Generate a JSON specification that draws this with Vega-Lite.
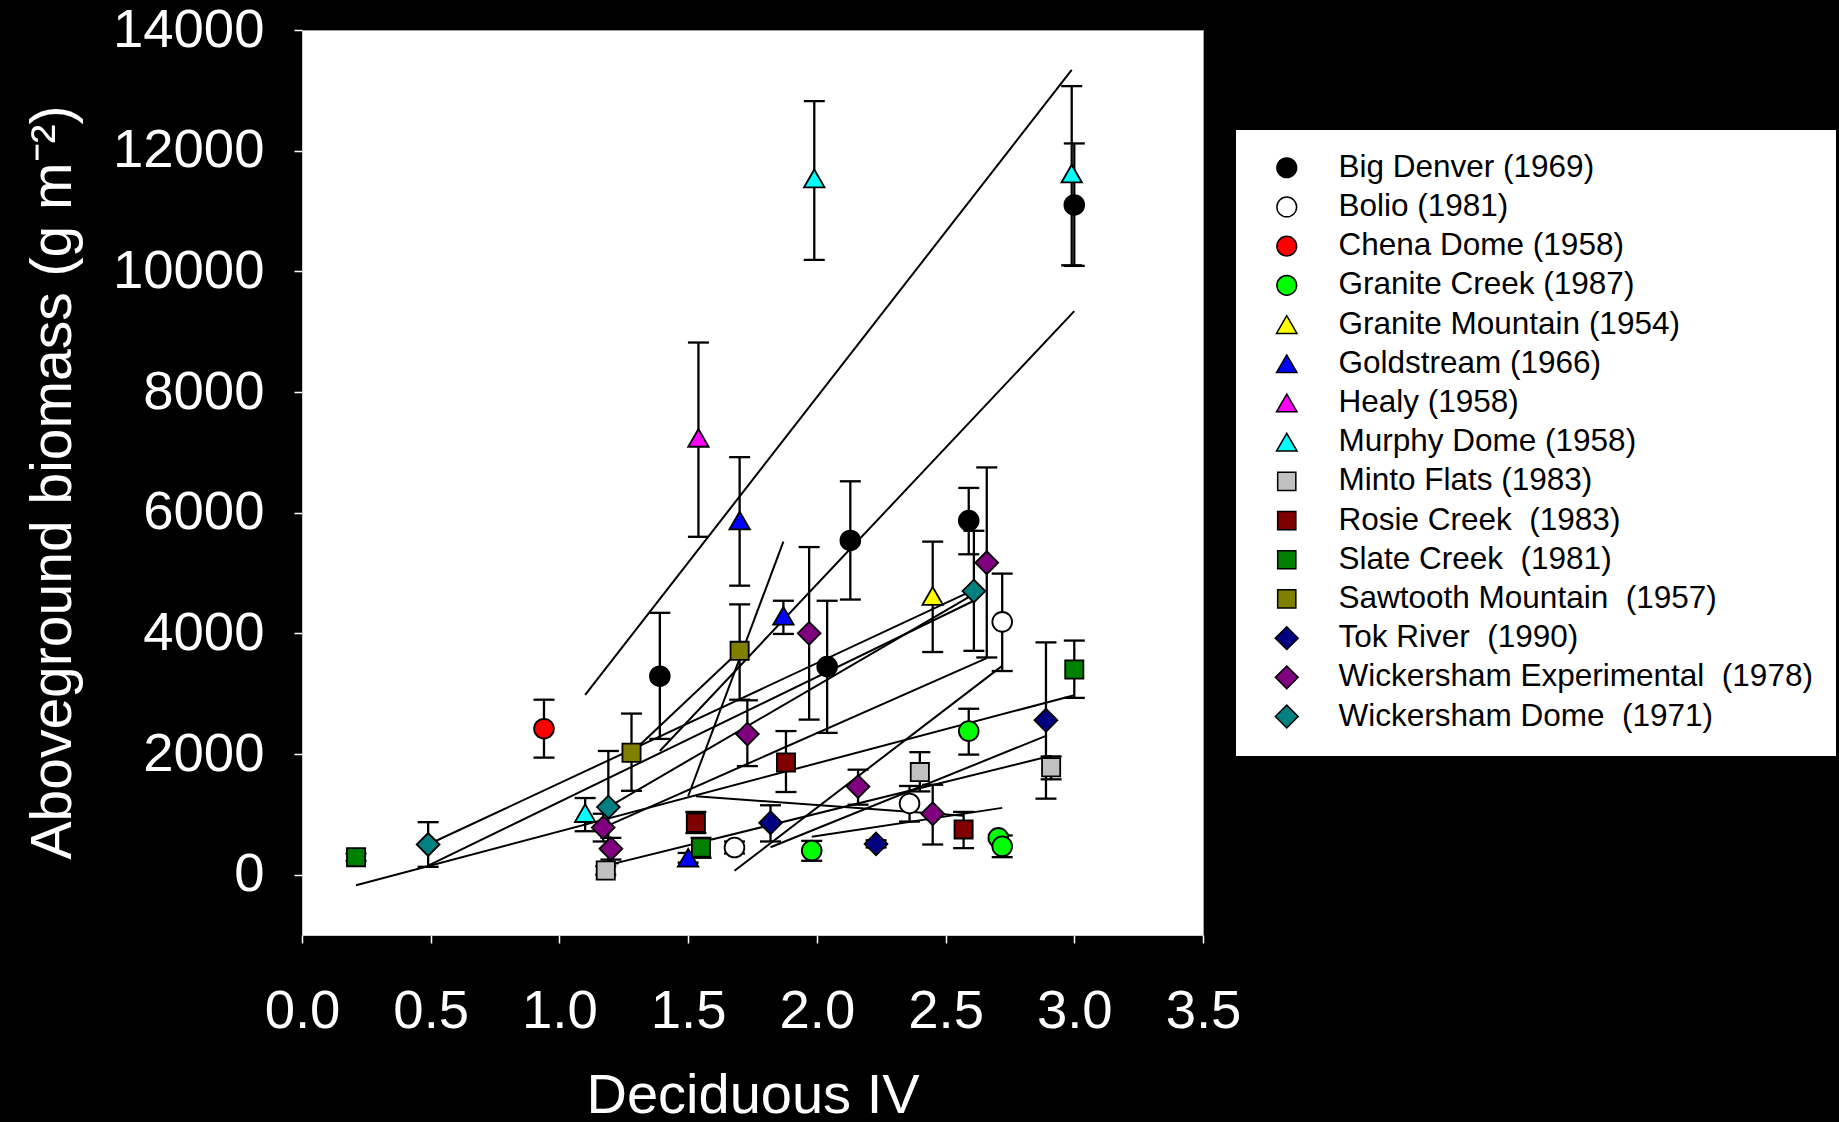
{
  "$schema": "https://vega.github.io/schema/vega-lite/v6.json",
  "width": 901,
  "height": 905,
  "autosize": {"type": "none"},
  "padding": {"left": 302, "top": 30, "right": 636, "bottom": 187},
  "background": "black",
  "config": {
    "font": "Liberation Sans",
    "view": {"fill": "white", "stroke": "#a0a0a0", "strokeWidth": 1}
  },
  "datasets": {
    "points": [
      {"site": "Big Denver (1969)", "x": 1.39, "y": 3290, "lo": 2250, "hi": 4340},
      {"site": "Big Denver (1969)", "x": 2.13, "y": 5540, "lo": 4560, "hi": 6520},
      {"site": "Big Denver (1969)", "x": 2.04, "y": 3450, "lo": 2350, "hi": 4540},
      {"site": "Big Denver (1969)", "x": 2.59, "y": 5870, "lo": 5310, "hi": 6410},
      {"site": "Big Denver (1969)", "x": 3.0, "y": 11100, "lo": 10090, "hi": 12120},
      {"site": "Bolio (1981)", "x": 1.68, "y": 450, "lo": 350, "hi": 550},
      {"site": "Bolio (1981)", "x": 2.36, "y": 1180, "lo": 880, "hi": 1470},
      {"site": "Bolio (1981)", "x": 2.72, "y": 4190, "lo": 3375, "hi": 4990},
      {"site": "Chena Dome (1958)", "x": 0.94, "y": 2420, "lo": 1940, "hi": 2900},
      {"site": "Granite Creek (1987)", "x": 2.59, "y": 2380, "lo": 1990, "hi": 2750},
      {"site": "Granite Creek (1987)", "x": 1.98, "y": 400, "lo": 230, "hi": 560},
      {"site": "Granite Creek (1987)", "x": 2.705, "y": 610, "lo": 560, "hi": 660},
      {"site": "Granite Creek (1987)", "x": 2.72, "y": 470, "lo": 290, "hi": 650},
      {"site": "Granite Mountain (1954)", "x": 2.45, "y": 4620, "lo": 3690, "hi": 5520},
      {"site": "Goldstream (1966)", "x": 1.7, "y": 5870, "lo": 4790, "hi": 6920},
      {"site": "Goldstream (1966)", "x": 1.87, "y": 4290, "lo": 3990, "hi": 4540},
      {"site": "Goldstream (1966)", "x": 1.5, "y": 280, "lo": 200, "hi": 360},
      {"site": "Healy (1958)", "x": 1.54, "y": 7240, "lo": 5600, "hi": 8820},
      {"site": "Murphy Dome (1958)", "x": 1.99, "y": 11540, "lo": 10190, "hi": 12820},
      {"site": "Murphy Dome (1958)", "x": 2.99, "y": 11620, "lo": 10100, "hi": 13070},
      {"site": "Murphy Dome (1958)", "x": 1.1, "y": 1020, "lo": 720, "hi": 1270},
      {"site": "Minto Flats (1983)", "x": 1.18, "y": 70, "lo": 0, "hi": 140},
      {"site": "Minto Flats (1983)", "x": 2.4, "y": 1700, "lo": 1380, "hi": 2030},
      {"site": "Minto Flats (1983)", "x": 2.91, "y": 1780, "lo": 1580, "hi": 1960},
      {"site": "Rosie Creek  (1983)", "x": 1.53, "y": 860, "lo": 690, "hi": 1040},
      {"site": "Rosie Creek  (1983)", "x": 1.88, "y": 1860, "lo": 1370, "hi": 2380},
      {"site": "Rosie Creek  (1983)", "x": 2.57, "y": 750, "lo": 440, "hi": 1040},
      {"site": "Slate Creek  (1981)", "x": 0.21, "y": 290, "lo": 230, "hi": 350},
      {"site": "Slate Creek  (1981)", "x": 1.55, "y": 450, "lo": 280, "hi": 610},
      {"site": "Slate Creek  (1981)", "x": 3.0, "y": 3400, "lo": 2930, "hi": 3880},
      {"site": "Sawtooth Mountain  (1957)", "x": 1.28, "y": 2020, "lo": 1390, "hi": 2670},
      {"site": "Sawtooth Mountain  (1957)", "x": 1.7, "y": 3710, "lo": 2900, "hi": 4480},
      {"site": "Tok River  (1990)", "x": 1.82, "y": 860, "lo": 550, "hi": 1150},
      {"site": "Tok River  (1990)", "x": 2.23, "y": 510, "lo": 450, "hi": 570},
      {"site": "Tok River  (1990)", "x": 2.89, "y": 2560, "lo": 1260, "hi": 3850},
      {"site": "Wickersham Experimental  (1978)", "x": 1.17, "y": 780, "lo": 550, "hi": 1010},
      {"site": "Wickersham Experimental  (1978)", "x": 1.2, "y": 430, "lo": 250, "hi": 610},
      {"site": "Wickersham Experimental  (1978)", "x": 1.73, "y": 2330, "lo": 1800, "hi": 2890},
      {"site": "Wickersham Experimental  (1978)", "x": 1.97, "y": 4000, "lo": 2570, "hi": 5430},
      {"site": "Wickersham Experimental  (1978)", "x": 2.16, "y": 1460, "lo": 1160, "hi": 1740},
      {"site": "Wickersham Experimental  (1978)", "x": 2.45, "y": 1010, "lo": 500, "hi": 1490},
      {"site": "Wickersham Experimental  (1978)", "x": 2.66, "y": 5170, "lo": 3600, "hi": 6750},
      {"site": "Wickersham Dome  (1971)", "x": 0.49, "y": 500, "lo": 130, "hi": 870},
      {"site": "Wickersham Dome  (1971)", "x": 1.19, "y": 1120, "lo": 190, "hi": 2050},
      {"site": "Wickersham Dome  (1971)", "x": 2.61, "y": 4700, "lo": 3710, "hi": 5700}
    ],
    "lines": [
      {"line": "Slate Creek", "x": 0.21, "y": -175},
      {"line": "Slate Creek", "x": 3.0, "y": 2975},
      {"line": "Wickersham Dome a", "x": 0.49, "y": 150},
      {"line": "Wickersham Dome a", "x": 2.61, "y": 4540},
      {"line": "Wickersham Dome b", "x": 0.49, "y": 500},
      {"line": "Wickersham Dome b", "x": 2.61, "y": 4720},
      {"line": "Wickersham Dome c", "x": 1.19, "y": 1120},
      {"line": "Wickersham Dome c", "x": 2.61, "y": 4650},
      {"line": "Murphy Dome", "x": 1.1, "y": 2980},
      {"line": "Murphy Dome", "x": 2.99, "y": 13340},
      {"line": "Wickersham Experimental", "x": 1.17, "y": 780},
      {"line": "Wickersham Experimental", "x": 2.66, "y": 3590},
      {"line": "Minto Flats", "x": 1.18, "y": 150},
      {"line": "Minto Flats", "x": 2.91, "y": 1970},
      {"line": "Sawtooth Mountain", "x": 1.28, "y": 2020},
      {"line": "Sawtooth Mountain", "x": 1.7, "y": 3710},
      {"line": "Big Denver", "x": 1.39, "y": 2050},
      {"line": "Big Denver", "x": 3.0, "y": 9340},
      {"line": "Goldstream", "x": 1.5, "y": 1300},
      {"line": "Goldstream", "x": 1.87, "y": 5520},
      {"line": "Rosie Creek", "x": 1.53, "y": 1300},
      {"line": "Rosie Creek", "x": 2.57, "y": 975},
      {"line": "Bolio", "x": 1.68, "y": 65},
      {"line": "Bolio", "x": 2.72, "y": 3460},
      {"line": "Tok River", "x": 1.82, "y": 455},
      {"line": "Tok River", "x": 2.89, "y": 2300},
      {"line": "Granite Creek", "x": 1.98, "y": 627},
      {"line": "Granite Creek", "x": 2.72, "y": 1107}
    ]
  },
  "layer": [
    {
      "data": {"name": "lines"},
      "mark": {"type": "line", "color": "black", "strokeWidth": 2},
      "encoding": {
        "x": {
          "field": "x", "type": "quantitative",
          "scale": {"domain": [0, 3.5], "nice": false, "zero": false},
          "axis": {
            "values": [0, 0.5, 1, 1.5, 2, 2.5, 3, 3.5],
            "format": ".1f",
            "grid": false,
            "labelFlush": false,
            "labelOverlap": false,
            "labelFontSize": 54.5,
            "labelColor": "white",
            "labelPadding": 41,
            "tickColor": "white",
            "tickSize": 8,
            "tickWidth": 1.5,
            "domainColor": "#d0d0d0",
            "title": "Deciduous IV",
            "titleFontSize": 56,
            "titleFontWeight": "normal",
            "titleColor": "white",
            "titleBaseline": "alphabetic",
            "titleY": 177
          }
        },
        "y": {
          "field": "y", "type": "quantitative",
          "scale": {"domain": [-1000, 14000], "nice": false, "zero": false},
          "axis": {
            "values": [0, 2000, 4000, 6000, 8000, 10000, 12000, 14000],
            "format": "d",
            "grid": false,
            "labelFlush": false,
            "labelOverlap": false,
            "labelFontSize": 54.5,
            "labelColor": "white",
            "labelPadding": 30,
            "tickColor": "white",
            "tickSize": 8,
            "tickWidth": 1.5,
            "domainColor": "#d0d0d0",
            "title": "Aboveground biomass (g m⁻²)",
            "titleFontSize": 57,
            "titleFontWeight": "normal",
            "titleColor": "white",
            "titleAngle": 270,
            "titleAlign": "center",
            "titleBaseline": "alphabetic",
            "titleX": -232,
            "titleY": 452
          }
        },
        "detail": {"field": "line", "type": "nominal"}
      }
    },
    {
      "data": {"name": "points"},
      "mark": {"type": "rule", "color": "black", "strokeWidth": 2.3},
      "encoding": {
        "x": {"field": "x", "type": "quantitative"},
        "y": {"field": "lo", "type": "quantitative"},
        "y2": {"field": "hi"}
      }
    },
    {
      "data": {"name": "points"},
      "mark": {"type": "tick", "orient": "horizontal", "color": "black", "size": 21, "thickness": 2.3, "opacity": 1},
      "encoding": {
        "x": {"field": "x", "type": "quantitative"},
        "y": {"field": "lo", "type": "quantitative"}
      }
    },
    {
      "data": {"name": "points"},
      "mark": {"type": "tick", "orient": "horizontal", "color": "black", "size": 21, "thickness": 2.3, "opacity": 1},
      "encoding": {
        "x": {"field": "x", "type": "quantitative"},
        "y": {"field": "hi", "type": "quantitative"}
      }
    },
    {
      "data": {"name": "points"},
      "mark": {"type": "point", "filled": true, "stroke": "black", "strokeWidth": 1.8, "opacity": 1},
      "encoding": {
        "x": {"field": "x", "type": "quantitative"},
        "y": {"field": "y", "type": "quantitative"},
        "fill": {
          "field": "site", "type": "nominal",
          "scale": {
            "domain": ["Big Denver (1969)", "Bolio (1981)", "Chena Dome (1958)", "Granite Creek (1987)", "Granite Mountain (1954)", "Goldstream (1966)", "Healy (1958)", "Murphy Dome (1958)", "Minto Flats (1983)", "Rosie Creek  (1983)", "Slate Creek  (1981)", "Sawtooth Mountain  (1957)", "Tok River  (1990)", "Wickersham Experimental  (1978)", "Wickersham Dome  (1971)"],
            "range": ["#000000", "#ffffff", "#ff0000", "#00ff00", "#ffff00", "#0000ff", "#ff00ff", "#00ffff", "#c0c0c0", "#800000", "#008000", "#808000", "#000080", "#800080", "#008080"]
          },
          "legend": {
            "orient": "none",
            "legendX": 933,
            "legendY": 99,
            "title": null,
            "fillColor": "white",
            "strokeColor": "black",
            "padding": 23,
            "labelFontSize": 31.5,
            "labelColor": "black",
            "labelLimit": 0,
            "labelOffset": 36,
            "symbolOffset": 13,
            "symbolStrokeColor": "black",
            "symbolStrokeWidth": 1.5,
            "symbolOpacity": 1,
            "rowPadding": 6.2,
            "labelExpr": "replace(datum.label, '  ', '\u00a0 ')"
          }
        },
        "shape": {
          "field": "site", "type": "nominal",
          "scale": {
            "domain": ["Big Denver (1969)", "Bolio (1981)", "Chena Dome (1958)", "Granite Creek (1987)", "Granite Mountain (1954)", "Goldstream (1966)", "Healy (1958)", "Murphy Dome (1958)", "Minto Flats (1983)", "Rosie Creek  (1983)", "Slate Creek  (1981)", "Sawtooth Mountain  (1957)", "Tok River  (1990)", "Wickersham Experimental  (1978)", "Wickersham Dome  (1971)"],
            "range": ["circle", "circle", "circle", "circle", "triangle-up", "triangle-up", "triangle-up", "triangle-up", "square", "square", "square", "square", "diamond", "diamond", "diamond"]
          }
        },
        "size": {
          "field": "site", "type": "nominal",
          "scale": {
            "type": "ordinal",
            "domain": ["Big Denver (1969)", "Bolio (1981)", "Chena Dome (1958)", "Granite Creek (1987)", "Granite Mountain (1954)", "Goldstream (1966)", "Healy (1958)", "Murphy Dome (1958)", "Minto Flats (1983)", "Rosie Creek  (1983)", "Slate Creek  (1981)", "Sawtooth Mountain  (1957)", "Tok River  (1990)", "Wickersham Experimental  (1978)", "Wickersham Dome  (1971)"],
            "range": [390, 390, 390, 390, 420, 420, 420, 420, 330, 330, 330, 330, 520, 520, 520]
          }
        }
      }
    }
  ]
}
